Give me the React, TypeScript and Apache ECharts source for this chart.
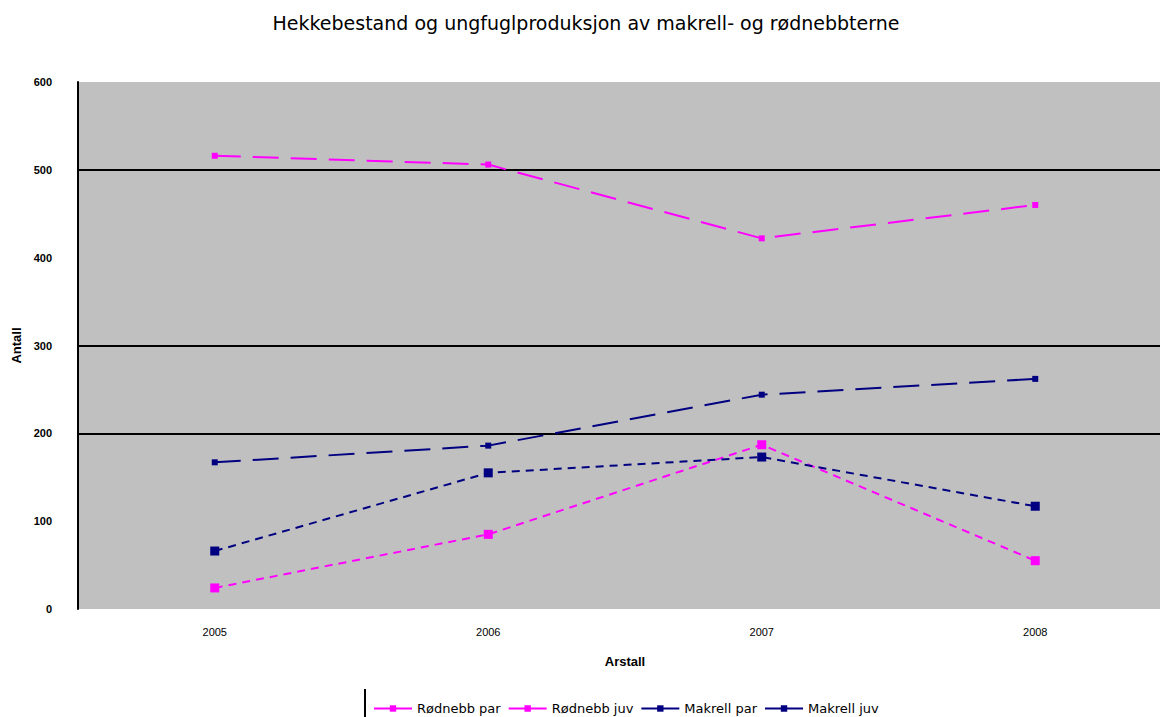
import React, { useEffect, useRef } from "react";
import * as echarts from "echarts";

const years = ["2005", "2006", "2007", "2008"];
const rodnebbPar = [516, 506, 422, 460];
const rodnebbJuv = [24, 85, 187, 55];
const makrellPar = [167, 186, 244, 262];
const makrellJuv = [66, 155, 173, 117];
const visibleGridLines = [200, 300, 500];

const MAGENTA = "#FF00FF";
const NAVY = "#000080";
const FONT = "Liberation Sans";
const WIDE = "DejaVu Sans";

export default function App() {
  const ref = useRef<HTMLDivElement>(null);
  useEffect(() => {
    document.body.style.margin = "0";
    const chart = echarts.init(ref.current!, null, { renderer: "svg" });
    const mk = (name: string, data: number[], color: string, dash: number[], size: number, withGrid = false) => ({
      name,
      type: "line",
      data,
      symbol: "rect",
      symbolSize: size,
      itemStyle: { color },
      lineStyle: { color, width: 2, type: dash },
      z: 3,
      ...(withGrid
        ? {
            markLine: {
              silent: true,
              symbol: "none",
              label: { show: false },
              lineStyle: { color: "#000", width: 2, type: "solid" },
              data: visibleGridLines.map((v) => ({ yAxis: v })),
              z: 1,
            },
          }
        : {}),
    });
    chart.setOption({
      animation: false,
      backgroundColor: "#fff",
      textStyle: { fontFamily: FONT, color: "#000" },
      title: {
        text: "Hekkebestand og ungfuglproduksjon av makrell- og rødnebbterne",
        left: "center",
        top: 8,
        textStyle: { fontSize: 19, fontWeight: "normal", fontFamily: WIDE, color: "#000" },
      },
      grid: {
        left: 78,
        right: 0,
        top: 82,
        bottom: 108,
        show: true,
        backgroundColor: "#C0C0C0",
        borderWidth: 0,
      },
      xAxis: {
        type: "category",
        data: years,
        name: "Arstall",
        nameLocation: "middle",
        nameGap: 46,
        nameTextStyle: { fontSize: 13, color: "#000", fontFamily: FONT, fontWeight: "bold" },
        axisLine: { show: false },
        axisTick: { show: false },
        axisLabel: { fontSize: 11, color: "#000", margin: 17, fontFamily: FONT },
      },
      yAxis: {
        type: "value",
        min: 0,
        max: 600,
        interval: 100,
        name: "Antall",
        nameLocation: "middle",
        nameGap: 54,
        nameRotate: 90,
        nameTextStyle: { fontSize: 13, color: "#000", fontFamily: FONT, fontWeight: "bold" },
        axisLine: { show: true, lineStyle: { color: "#000", width: 2 } },
        axisTick: { show: false },
        splitLine: { show: false },
        axisLabel: { fontSize: 11, color: "#000", margin: 26, fontFamily: FONT, fontWeight: "bold" },
      },
      legend: {
        left: 368,
        top: 697,
        itemWidth: 38,
        itemHeight: 8,
        itemGap: 7,
        lineStyle: { type: "solid", width: 2 },
        textStyle: { fontSize: 13, color: "#000", fontFamily: WIDE },
        data: ["Rødnebb par", "Rødnebb juv", "Makrell par", "Makrell juv"],
      },
      graphic: [
        {
          type: "line",
          shape: { x1: 365, y1: 689, x2: 365, y2: 717 },
          style: { stroke: "#000", lineWidth: 2 },
        },
      ],
      series: [
        mk("Rødnebb par", rodnebbPar, MAGENTA, [26, 12], 6, true),
        mk("Rødnebb juv", rodnebbJuv, MAGENTA, [8, 6], 9),
        mk("Makrell par", makrellPar, NAVY, [26, 12], 6),
        mk("Makrell juv", makrellJuv, NAVY, [8, 6], 9),
      ],
    });
    return () => chart.dispose();
  }, []);
  return (
    <div style={{ width: 1160, height: 717, overflow: "hidden" }}>
      <div ref={ref} style={{ width: 1172, height: 717 }} />
    </div>
  );
}
